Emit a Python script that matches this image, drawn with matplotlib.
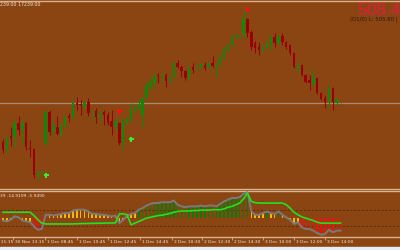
import matplotlib
matplotlib.use('Agg')
import matplotlib.pyplot as plt
import numpy as np

# ---------------- data ----------------
opens = [504.55, 503.85, 505.15, 505.05, 506.45, 505.75, 506.45, 503.95, 503.85, 501.15,
         501.45, 504.45, 507.55, 505.65, 506.05, 505.35, 506.15, 507.15, 506.95, 508.45,
         508.35, 508.05, 508.55, 507.55, 507.65, 507.05, 507.55, 507.25, 506.65, 506.05,
         506.45, 504.45, 506.45, 506.75, 507.75, 507.95, 507.25, 509.05, 510.05, 510.45,
         511.25, 511.15, 511.25, 510.65, 511.05, 512.45, 512.05, 511.65, 510.95, 512.05,
         511.95, 512.05, 512.25, 512.05, 512.45, 512.25, 512.35, 513.05, 513.75, 514.25,
         515.05, 515.00, 515.35, 516.85, 515.55, 514.45, 514.05, 513.75, 514.05, 514.25,
         515.05, 514.45, 515.15, 514.55, 514.25, 513.45, 511.85, 512.25, 511.25, 510.75,
         510.35, 510.95, 509.45, 508.95, 508.55, 509.95, 508.45, 508.40]
highs = [504.85, 505.15, 506.05, 506.75, 507.15, 506.75, 506.55, 504.75, 503.95, 501.75,
         501.65, 507.75, 507.75, 506.75, 507.15, 506.45, 507.25, 507.45, 508.75, 509.05,
         508.75, 508.75, 508.95, 507.75, 507.95, 507.75, 507.75, 507.55, 507.75, 506.95,
         506.55, 506.95, 507.05, 508.45, 508.25, 508.75, 509.05, 510.55, 510.95, 511.45,
         511.45, 511.55, 511.45, 511.25, 512.55, 512.75, 512.25, 511.75, 512.15, 512.45,
         512.25, 512.55, 512.55, 512.55, 513.15, 512.45, 513.25, 514.05, 514.45, 515.25,
         515.45, 515.10, 517.95, 516.95, 515.75, 514.65, 514.55, 514.25, 514.75, 515.25,
         515.45, 515.35, 515.45, 514.65, 514.35, 513.55, 512.55, 512.35, 511.35, 511.25,
         511.75, 511.05, 509.55, 509.25, 510.15, 510.05, 508.95, 508.45]
lows = [503.45, 503.45, 504.15, 504.05, 505.25, 504.25, 503.75, 503.05, 500.95, 500.75,
        501.35, 504.25, 505.25, 505.25, 505.25, 505.05, 505.95, 506.55, 506.95, 507.75,
        507.25, 507.75, 507.15, 506.85, 506.45, 506.55, 506.25, 506.25, 505.25, 505.75,
        504.25, 503.75, 506.25, 506.55, 507.55, 507.75, 506.05, 508.75, 509.75, 510.05,
        510.45, 510.55, 510.05, 510.45, 510.95, 511.95, 511.05, 510.75, 510.85, 511.45,
        511.75, 511.85, 511.75, 511.95, 512.05, 511.05, 512.25, 512.95, 513.65, 514.15,
        514.95, 514.95, 515.05, 515.05, 513.75, 513.45, 513.25, 513.55, 513.95, 513.75,
        514.05, 514.25, 514.25, 513.85, 513.25, 511.95, 511.45, 511.15, 510.45, 509.75,
        510.05, 509.35, 508.75, 507.95, 508.05, 507.75, 508.35, 508.35]
closes = [503.75, 504.95, 504.95, 506.45, 505.75, 506.45, 504.05, 503.85, 501.25, 501.45,
          501.55, 507.55, 505.55, 506.15, 505.35, 506.15, 507.05, 506.95, 508.45, 508.25,
          508.25, 508.45, 507.45, 507.65, 507.05, 507.45, 507.25, 506.45, 506.05, 506.65,
          504.45, 506.55, 506.85, 507.85, 508.05, 508.35, 508.95, 510.15, 510.55, 511.05,
          511.15, 511.25, 510.65, 511.05, 512.45, 512.05, 511.65, 510.95, 511.95, 511.75,
          512.05, 512.35, 511.95, 512.35, 512.15, 512.35, 513.15, 513.85, 514.25, 515.05,
          515.25, 515.05, 516.95, 515.45, 514.05, 513.95, 513.75, 514.05, 514.35, 515.05,
          514.45, 515.15, 514.55, 514.05, 513.45, 512.05, 512.25, 511.25, 510.55, 510.45,
          510.95, 509.45, 508.85, 508.55, 509.95, 508.55, 508.85, 508.45]

bid_price = 508.45
buy_idx = [11, 33]
buy_price = [501.25, 504.85]
sell_idx = [30, 63]
sell_price = [507.65, 517.85]

osc = [-3, -4, -2, 2, 1, -3, -4, -5, -10, -14,
       -13, 4, 4, 3, 4, 5, 6, 6, 9, 10,
       10, 10, 8, 5, 5, 4, 4, 3, 2, 3,
       -6, -2, 3, 5, 6, 10, 12, 15, 17, 18,
       18, 19, 19, 19, 21, 16, 14, 13, 14, 14,
       14, 15, 14, 15, 15, 14, 17, 20, 22, 24,
       24, 25, 29, 31, 8, 4, 4, 6, 8, 6,
       5, 8, 4, 1, -2, -7, -5, -11, -13, -13,
       -15, -18, -20, -19, -14, -17, -15, -14.92]
osc_state = (['y'] * 8 + ['r'] * 3 + ['y'] * 24 + ['g'] * 29 + ['y'] * 4 + ['g'] + ['y'] * 2
             + ['g'] + ['y'] * 5 + ['r'] * 11)
signal = [7, 7, 7, 7, 7, 7, 7, 7, 3, -2,
          -6, -7, -7, -7, -7, -7, -7, -7, -7, -6.8,
          -6.6, -6.5, -6.4, -6.3, -6.2, -6.1, -6.0, -5.9, -5.8, -5.7,
          5, 5, 4, -8, -6, -4, -2, 0, 1, 2,
          3, 3.5, 4.5, 5.5, 7, 8, 8.5, 8.5, 8.5, 9,
          9, 9.5, 9.5, 9.5, 10, 10, 10, 11, 13, 14,
          16, 18, 23, 30, 20, 18.5, 18, 18, 18, 18,
          18, 18, 18, 16, 12, 7, 4, 1.5, 0, -1.5,
          -3, -5, -6, -6, -6, -6, -6, -5.95]
levels = [10, -10]

tick_pos = [-5.4, 2.6, 10.8, 19.1, 27.1, 35.3, 43.6, 51.3, 59.0, 67.0, 75.0, 83.0]
tick_labels = ['30 Nov 11:15', '30 Nov 13:15', '1 Dec 08:45', '1 Dec 10:45', '1 Dec 12:45',
               '1 Dec 14:45', '2 Dec 10:30', '2 Dec 12:30', '2 Dec 14:30', '3 Dec 10:00',
               '3 Dec 12:00', '3 Dec 14:00']

# ---------------- style ----------------
BG = '#8b4513'
EDGE = '#d9b48f'
UP = '#0a8a0a'
DN = '#9a0000'
TXT = '#f2e6da'
state_color = {'y': '#f2b705', 'r': '#ee1111', 'g': '#0c7a0c'}

W, H = 400, 250
fig = plt.figure(figsize=(4, 2.5), dpi=100, facecolor=BG)
ax = fig.add_axes([0, 1 - 189 / H, 1, 188.5 / H], facecolor=BG)
ax2 = fig.add_axes([0, 1 - 237 / H, 1, 46 / H], facecolor=BG)

xmin, xmax = -3 / 3.88, 397 / 3.88
n = len(opens)
idx = np.arange(n)
o = np.array(opens); c = np.array(closes); hi = np.array(highs); lo = np.array(lows)
up = c >= o
cols = np.where(up, UP, DN)

ax.vlines(idx, lo, hi, colors=cols, linewidth=0.75, zorder=2)
bot = np.minimum(o, c)
hgt = np.maximum(np.abs(c - o), 0.06)
ax.bar(idx, hgt, bottom=bot, width=0.62, color=cols, linewidth=0, zorder=3)
ax.axhline(bid_price, color='#a98a72', linewidth=0.9, zorder=1)
ax.plot(buy_idx, buy_price, 'P', color='#33ee33', markersize=3.6, markeredgewidth=0, zorder=4)
ax.plot(sell_idx, sell_price, 'P', color='#ff1010', markersize=3.6, markeredgewidth=0, zorder=4)

ax.set_xlim(xmin, xmax)
ax.set_ylim(499.85, 518.65)
ax.set_xticks([]); ax.set_yticks([])
for s in ['left', 'right']:
    ax.spines[s].set_visible(False)
for s in ['top', 'bottom']:
    ax.spines[s].set_color(EDGE)
    ax.spines[s].set_linewidth(1.0)

# lower panel
oc = [state_color[s] for s in osc_state]
ax2.bar(idx, osc, width=0.42, color=oc, linewidth=0, zorder=2)
for lv in levels:
    ax2.axhline(lv, color='#5c2a0c', linewidth=0.7, linestyle=(0, (2, 2)), zorder=1)
ax2.plot(idx, osc, color='#7a7a7a', linewidth=1.4, zorder=3, solid_joinstyle='round')
ax2.plot(idx, signal, color='#22e022', linewidth=1.2, zorder=4)
ax2.set_xlim(xmin, xmax)
ax2.set_ylim(-22.6, 32.4)
ax2.set_yticks([])
ax2.set_xticks(tick_pos[1:])
ax2.set_xticklabels([])
ax2.tick_params(axis='x', length=2.0, width=0.6, color=EDGE, pad=1.2)
xt = ax2.get_xaxis_transform()
for p, lab in zip(tick_pos, tick_labels):
    ax2.text(p + 0.5, -0.07, lab, transform=xt, fontsize=3.2, color=TXT,
             ha='left', va='top', clip_on=False)
for s in ['left', 'right']:
    ax2.spines[s].set_visible(False)
for s in ['top', 'bottom']:
    ax2.spines[s].set_color(EDGE)
    ax2.spines[s].set_linewidth(1.0)
ax2.text(0.0, 0.93, '39 -14.9199 -5.9490', transform=ax2.transAxes, fontsize=3.2,
         color=TXT, ha='left', va='top')

# header texts
fig.text(0.0, 1 - 2.5 / H, '239.00 17239.00', fontsize=3.4, color=TXT, ha='left', va='top')
fig.text(357 / W, 1 - 3 / H, '508.45', fontsize=12.5, color='#dc1e3c', ha='left', va='top',
         family='Liberation Sans')
fig.text(350 / W, 1 - 16.5 / H, '(D1/0) L: 505.80 | H', fontsize=3.9, color='#2a1a10', ha='left',
         va='top')

# bottom window strip
fig.patches.append(plt.Rectangle((0, 0), 1, 3 / H, transform=fig.transFigure,
                                 color='#e6edf7', zorder=10))

fig.savefig('out.png', dpi=100, facecolor=BG)
